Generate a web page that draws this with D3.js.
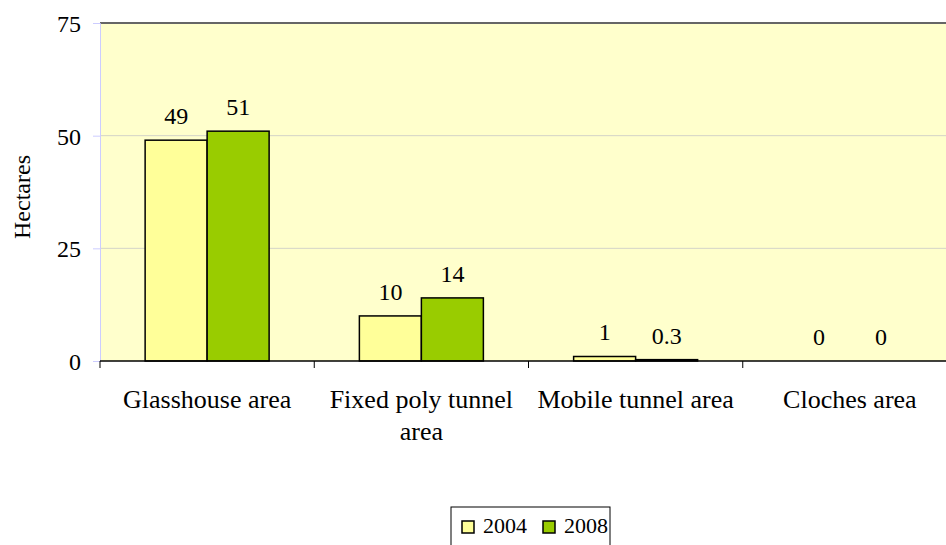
<!DOCTYPE html>
<html>
<head>
<meta charset="utf-8">
<script src="https://cdn.jsdelivr.net/npm/d3@7"></script>
<style>
  body { margin: 0; background: #fff; }
  text { font-family: "Liberation Serif", "Times New Roman", serif; fill: #000; }
</style>
</head>
<body>
<div id="chart"></div>
<script>
// chart data
var categories = ["Glasshouse area", "Fixed poly tunnel area", "Mobile tunnel area", "Cloches area"];
var categoryLines = [["Glasshouse area"], ["Fixed poly tunnel", "area"], ["Mobile tunnel area"], ["Cloches area"]];
var years = ["2004", "2008"];
var values2004 = [49, 10, 1, 0];
var values2008 = [51, 14, 0.3, 0];
var labels2004 = ["49", "10", "1", "0"];
var labels2008 = ["51", "14", "0.3", "0"];
var yTicks = [0, 25, 50, 75];
var colors = ["#FFFF99", "#99CC00"];

var width = 946, height = 545;
var margin = {top: 23, right: -11, bottom: 184, left: 100};
var w = width - margin.left - margin.right,
    h = height - margin.top - margin.bottom;

var svg = d3.select("#chart").append("svg")
    .attr("width", width)
    .attr("height", height);

var g = svg.append("g")
    .attr("transform", "translate(" + margin.left + "," + margin.top + ")");

var x = d3.scaleBand().domain(categories).range([0, w]);
var x1 = d3.scaleBand().domain(years).range([0, 124]);
var y = d3.scaleLinear().domain([0, 75]).range([h, 0]);

// plot background
g.append("rect")
    .attr("width", w).attr("height", h)
    .attr("fill", "#FFFFCC");

// gridlines
g.selectAll(".grid")
    .data(yTicks.filter(function(d) { return d > 0 && d < 75; }))
    .enter().append("line")
    .attr("x1", 0).attr("x2", w)
    .attr("y1", function(d) { return y(d); })
    .attr("y2", function(d) { return y(d); })
    .attr("stroke", "#d4d4c8").attr("stroke-width", 1);

g.append("line")
    .attr("x1", 0).attr("x2", w)
    .attr("y1", y(75)).attr("y2", y(75))
    .attr("stroke", "#666").attr("stroke-width", 2);

// y axis
var yAxis = g.append("g")
    .call(d3.axisLeft(y).tickValues(yTicks).tickSize(7).tickPadding(12));
yAxis.select(".domain").attr("stroke", "#ccccff");
yAxis.selectAll(".tick line").attr("stroke", "#ccccff");
yAxis.selectAll(".tick text")
    .style("font-family", "Liberation Serif")
    .style("font-size", "24px")
    .attr("dy", "0.35em");

svg.append("text")
    .attr("transform", "translate(30,197) rotate(-90)")
    .attr("text-anchor", "middle")
    .style("font-size", "24px")
    .text("Hectares");

// bars
var data = categories.map(function(c, i) {
    return {cat: c, vals: [
        {year: years[0], v: values2004[i], label: labels2004[i]},
        {year: years[1], v: values2008[i], label: labels2008[i]}
    ]};
});

var groups = g.selectAll(".grp")
    .data(data)
    .enter().append("g")
    .attr("transform", function(d) {
        return "translate(" + (x(d.cat) + (x.bandwidth() - 124) / 2) + ",0)";
    });

groups.selectAll("rect")
    .data(function(d) { return d.vals; })
    .enter().append("rect")
    .filter(function(d) { return d.v > 0; })
    .attr("x", function(d) { return x1(d.year); })
    .attr("width", x1.bandwidth())
    .attr("y", function(d) { return y(d.v); })
    .attr("height", function(d) { return h - y(d.v); })
    .attr("fill", function(d) { return colors[years.indexOf(d.year)]; })
    .attr("stroke", "#000").attr("stroke-width", 1.5);

groups.selectAll(".vlabel")
    .data(function(d) { return d.vals; })
    .enter().append("text")
    .attr("x", function(d) { return x1(d.year) + x1.bandwidth() / 2; })
    .attr("y", function(d) { return y(d.v) - 16; })
    .attr("text-anchor", "middle")
    .style("font-size", "24px")
    .text(function(d) { return d.label; });

// x axis
var xAxis = g.append("g")
    .attr("transform", "translate(0," + h + ")");
xAxis.append("line")
    .attr("x1", 0).attr("x2", w)
    .attr("stroke", "#000").attr("stroke-width", 1.5);
xAxis.selectAll(".xt")
    .data(categories)
    .enter().append("line")
    .attr("x1", function(d) { return x(d); })
    .attr("x2", function(d) { return x(d); })
    .attr("y1", 0).attr("y2", 7)
    .attr("stroke", "#000");

xAxis.selectAll(".clab")
    .data(categories)
    .enter().append("text")
    .attr("x", function(d) { return x(d) + x.bandwidth() / 2; })
    .attr("y", 47)
    .attr("text-anchor", "middle")
    .style("font-size", "26px")
    .each(function(d, i) {
        var t = d3.select(this);
        categoryLines[i].forEach(function(line, j) {
            t.append("tspan")
                .attr("x", x(d) + x.bandwidth() / 2)
                .attr("dy", j === 0 ? 0 : 32)
                .text(line);
        });
    });

// legend
var legend = svg.append("g").attr("transform", "translate(451,507)");
legend.append("rect")
    .attr("width", 159).attr("height", 45)
    .attr("fill", "#fff").attr("stroke", "#000").attr("stroke-width", 1);

var items = legend.selectAll(".item")
    .data(years)
    .enter().append("g")
    .attr("transform", function(d, i) { return "translate(" + (11 + i * 81) + ",0)"; });
items.append("rect")
    .attr("y", 14).attr("width", 12).attr("height", 12)
    .attr("fill", function(d, i) { return colors[i]; })
    .attr("stroke", "#000").attr("stroke-width", 1.5);
items.append("text")
    .attr("x", 21).attr("y", 26)
    .style("font-size", "22px")
    .text(function(d) { return d; });
</script>
</body>
</html>
